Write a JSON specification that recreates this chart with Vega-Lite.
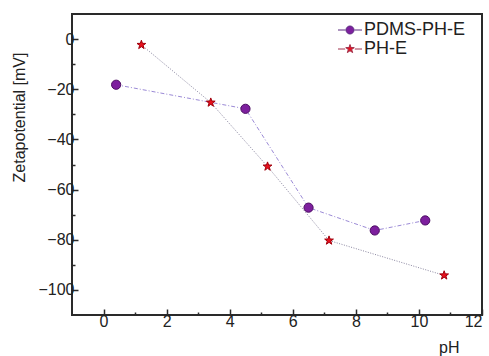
{
  "$schema": "https://vega.github.io/schema/vega-lite/v6.json",
  "width": 410,
  "height": 301,
  "autosize": {"type": "none"},
  "padding": {"left": 72, "top": 14, "right": 7, "bottom": 41},
  "background": "white",
  "config": {
    "font": "Liberation Sans",
    "view": {"stroke": "#2a2a2a", "strokeWidth": 2},
    "axis": {
      "grid": false,
      "domain": false,
      "labelFont": "Liberation Sans",
      "labelFontSize": 16,
      "labelColor": "#222",
      "titleFont": "Liberation Sans",
      "titleFontSize": 16,
      "titleFontWeight": "normal",
      "titleColor": "#222",
      "tickColor": "#2a2a2a",
      "tickWidth": 1.5
    },
    "legend": {
      "title": null,
      "orient": "none",
      "padding": 0,
      "labelFont": "Liberation Sans",
      "labelFontSize": 18,
      "labelColor": "#222",
      "symbolSize": 256,
      "symbolStrokeWidth": 1,
      "labelOffset": 5
    }
  },
  "data": {
    "values": [
      {"series": "PDMS-PH-E", "pH": 0.4, "zeta": -18.2},
      {"series": "PDMS-PH-E", "pH": 4.5, "zeta": -27.8},
      {"series": "PDMS-PH-E", "pH": 6.5, "zeta": -67.2},
      {"series": "PDMS-PH-E", "pH": 8.6, "zeta": -76.3},
      {"series": "PDMS-PH-E", "pH": 10.2, "zeta": -72.3},
      {"series": "PH-E", "pH": 1.2, "zeta": -2.3},
      {"series": "PH-E", "pH": 3.4, "zeta": -25.3},
      {"series": "PH-E", "pH": 5.2, "zeta": -50.8},
      {"series": "PH-E", "pH": 7.15, "zeta": -80.3},
      {"series": "PH-E", "pH": 10.8, "zeta": -94.2}
    ]
  },
  "encoding": {
    "x": {
      "field": "pH", "type": "quantitative",
      "scale": {"domain": [-1, 12], "nice": false, "zero": false},
      "axis": {
        "orient": "bottom",
        "title": "pH",
        "values": [0,1,2,3,4,5,6,7,8,9,10,11,12],
        "labelExpr": "datum.value % 2 == 0 ? datum.label : ''",
        "tickSize": {"condition": {"test": "datum.value % 2 != 0", "value": -3}, "value": -6},
        "labelPadding": 4,
        "titleAnchor": "end",
        "titleAlign": "right",
        "titleBaseline": "alphabetic",
        "titleX": 387,
        "titleY": 37
      }
    },
    "y": {
      "field": "zeta", "type": "quantitative",
      "scale": {"domain": [-110, 10], "nice": false, "zero": false},
      "axis": {
        "orient": "left",
        "title": "Zetapotential [mV]",
        "values": [-100,-90,-80,-70,-60,-50,-40,-30,-20,-10,0],
        "labelExpr": "datum.value % 20 == 0 ? datum.label : ''",
        "tickSize": {"condition": {"test": "datum.value % 20 != 0", "value": -3}, "value": -6},
        "labelPadding": 4,
        "titleAngle": -90,
        "titleAlign": "center",
        "titleBaseline": "middle",
        "titleX": -53,
        "titleY": 103
      }
    }
  },
  "layer": [
    {
      "transform": [{"filter": "datum.series == 'PDMS-PH-E'"}],
      "mark": {"type": "line", "color": "#9b8ad6", "strokeWidth": 1, "strokeDash": [4, 2, 1, 2]}
    },
    {
      "transform": [{"filter": "datum.series == 'PH-E'"}],
      "mark": {"type": "line", "color": "#8a86a0", "strokeWidth": 1, "strokeDash": [1, 1.5]}
    },
    {
      "transform": [{"filter": "datum.series == 'PDMS-PH-E'"}],
      "mark": {"type": "point", "filled": true, "opacity": 1, "strokeWidth": 1, "size": 85, "shape": "circle", "stroke": "#4c0d63"},
      "encoding": {
        "fill": {
          "field": "series", "type": "nominal",
          "scale": {"domain": ["PDMS-PH-E"], "range": ["#7d1f9e"]},
          "legend": {
            "legendX": 269,
            "legendY": 7,
            "symbolStrokeColor": "#5a2a80",
            "symbolType": "M-1.5,0H-0.55M0.55,0H1.5M0.5,0A0.5,0.5,0,1,1,-0.5,0A0.5,0.5,0,1,1,0.5,0Z"
          }
        }
      }
    },
    {
      "transform": [{"filter": "datum.series == 'PH-E'"}],
      "mark": {"type": "point", "filled": true, "opacity": 1, "strokeWidth": 1, "size": 85, "stroke": "#a0000c", "shape": "M0,-1L0.235,-0.324L0.951,-0.309L0.38,0.124L0.588,0.809L0,0.4L-0.588,0.809L-0.38,0.124L-0.951,-0.309L-0.235,-0.324Z"},
      "encoding": {
        "fill": {
          "field": "series", "type": "nominal",
          "scale": {"domain": ["PH-E"], "range": ["#e8101c"]},
          "legend": {
            "legendX": 269,
            "legendY": 26,
            "symbolStrokeColor": "#a0304c",
            "symbolType": "M-1.5,0H-0.6M0.6,0H1.5M0,-0.56L0.129,-0.178L0.533,-0.173L0.209,0.068L0.329,0.453L0,0.22L-0.329,0.453L-0.209,0.068L-0.533,-0.173L-0.129,-0.178Z"
          }
        }
      }
    }
  ],
  "resolve": {"scale": {"fill": "independent"}, "legend": {"fill": "independent"}}
}
